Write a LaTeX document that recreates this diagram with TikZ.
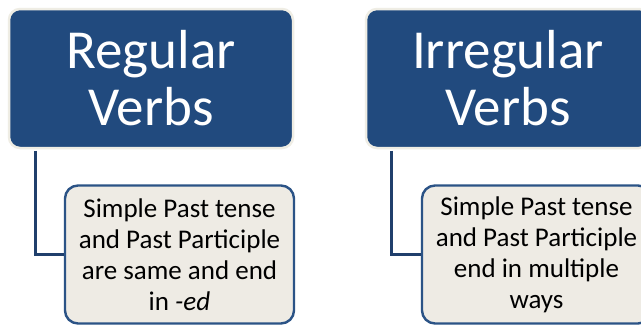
\documentclass[tikz,border=0pt]{standalone}
\usepackage{fontspec}
\setmainfont{Carlito}
\definecolor{parentblue}{HTML}{214A7E}
\definecolor{rimbeige}{HTML}{EFEDE4}
\definecolor{childfill}{HTML}{EEEBE4}
\definecolor{childline}{HTML}{2B5386}
\definecolor{linkblue}{HTML}{203F6C}
\tikzset{
  parentbox/.style={draw=rimbeige, line width=2.5pt, fill=parentblue, rounded corners=11pt,
    minimum width=284pt, minimum height=139pt, text=white, align=center, inner sep=0pt,
    font=\fontsize{55}{57}\selectfont},
  childbox/.style={draw=childline, line width=2.4pt, fill=childfill, rounded corners=13pt,
    minimum width=229pt, minimum height=138pt, text=black, align=center, inner sep=0pt,
    font=\fontsize{27}{31}\selectfont},
  link/.style={draw=linkblue, line width=2.6pt}
}
\begin{document}
\begin{tikzpicture}[x=1pt,y=-1pt]
\useasboundingbox (0,0) rectangle (641,325);
\fill[white] (0,0) rectangle (641,325);
\node[parentbox] (p1) at (151,78.5) {Regular\\Verbs};
\node[parentbox] (p2) at (508,78.5) {Irregular\\Verbs};
\node[childbox] (c1) at (179.5,254.5) {Simple Past tense\\and Past Participle\\are same and end\\in \textit{-ed}};
\node[childbox] (c2) at (536.5,254.5) {Simple Past tense\\and Past Participle\\end in multiple\\ways};
\draw[link] (p1.south west) ++(27.5,1.5) coordinate (s1) |- (c1.west);
\draw[link] (p2.south west) ++(27,1.5) coordinate (s2) |- (c2.west);
\end{tikzpicture}
\end{document}
